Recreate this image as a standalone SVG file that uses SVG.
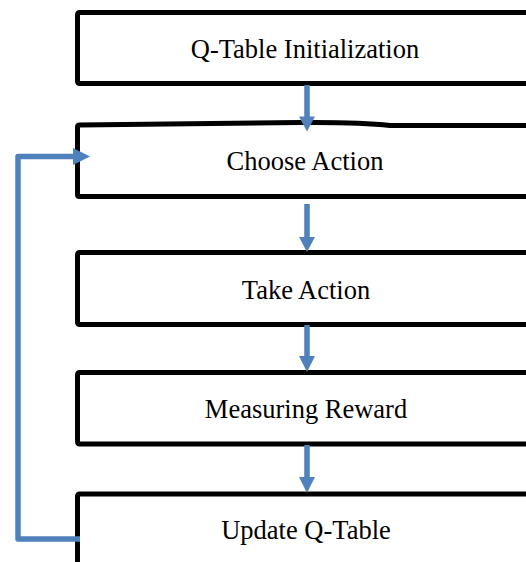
<svg xmlns="http://www.w3.org/2000/svg" width="526" height="562" viewBox="0 0 526 562">
  <style>
    .box { fill: #ffffff; stroke: #000000; stroke-width: 5; stroke-linejoin: round; }
    .label { font-family: "Liberation Serif", "Times New Roman", serif; font-size: 26.5px; fill: #000000; text-anchor: middle; }
    .flow { stroke: #4f81bd; stroke-width: 5.5; fill: none; }
    .head { fill: #4f81bd; }
  </style>
  <rect width="526" height="562" fill="#ffffff"/>

  <g id="q-table-init">
    <rect class="box" x="77.5" y="12.5" width="470" height="71" rx="2"/>
    <text class="label" x="305" y="58">Q-Table Initialization</text>
  </g>

  <g id="choose-action">
    <path class="box" d="M540,196.5 H79.5 Q77.5,196.5 77.5,194.5 V127 Q77.5,125 79.5,125 L300,122.5 Q360,122 390,125.5 L540,125.5"/>
    <text class="label" x="305" y="170">Choose Action</text>
  </g>

  <g id="take-action">
    <rect class="box" x="77.5" y="252.5" width="470" height="72" rx="2"/>
    <text class="label" x="306" y="299">Take Action</text>
  </g>

  <g id="measuring-reward">
    <rect class="box" x="77.5" y="372.5" width="470" height="71.5" rx="2"/>
    <text class="label" x="306" y="418">Measuring Reward</text>
  </g>

  <g id="update-q-table">
    <rect class="box" x="77.5" y="494" width="470" height="90" rx="2"/>
    <text class="label" x="306" y="539">Update Q-Table</text>
  </g>

  <g id="connectors">
    <!-- straight downward steps -->
    <line class="flow" x1="307" y1="85" x2="307" y2="117"/>
    <polygon class="head" points="299,116.5 315,116.5 307,131.5"/>

    <line class="flow" x1="307" y1="204" x2="307" y2="238"/>
    <polygon class="head" points="299,237 315,237 307,252"/>

    <line class="flow" x1="307" y1="325" x2="307" y2="357"/>
    <polygon class="head" points="299,356 315,356 307,372"/>

    <line class="flow" x1="307" y1="445" x2="307" y2="478"/>
    <polygon class="head" points="299,477 315,477 307,493"/>

    <!-- loop back from the update step to action choice -->
    <path class="flow" stroke-linejoin="round" d="M80,539 H18 V156.5 H74"/>
    <polygon class="head" points="73,148 90,156.5 73,165"/>
  </g>
</svg>
